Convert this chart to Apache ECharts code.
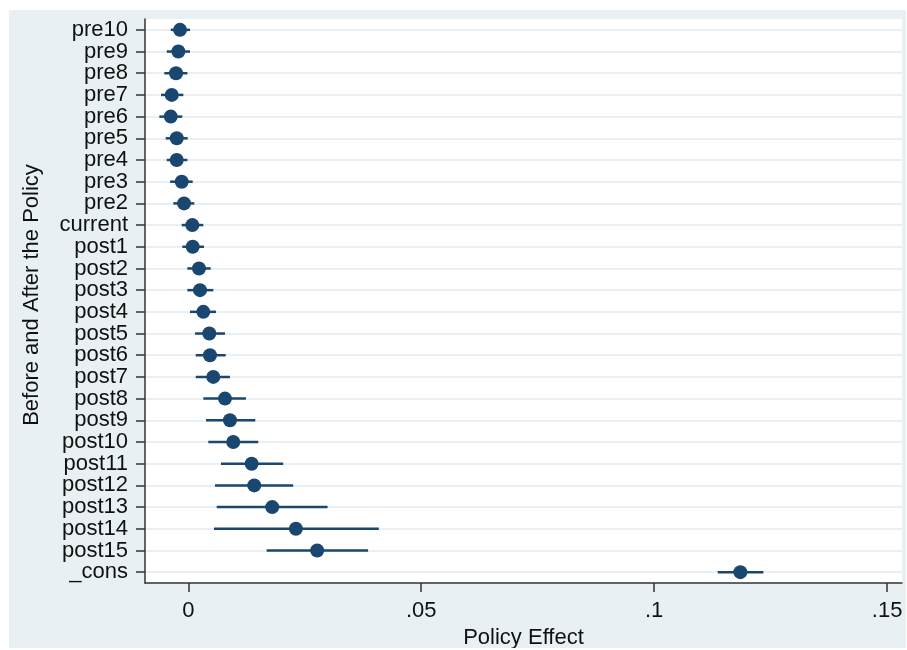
<!DOCTYPE html>
<html>
<head>
<meta charset="utf-8">
<script src="https://cdn.jsdelivr.net/npm/echarts@6/dist/echarts.min.js"></script>
<style>
html,body{margin:0;padding:0;background:#ffffff;width:907px;height:650px;overflow:hidden;}
#c{position:absolute;left:9px;top:10px;width:897px;height:638px;}
</style>
</head>
<body>
<div id="c"></div>
<script>
const categories = ['pre10','pre9','pre8','pre7','pre6','pre5','pre4','pre3','pre2','current',
  'post1','post2','post3','post4','post5','post6','post7','post8','post9','post10',
  'post11','post12','post13','post14','post15','_cons'];
const estimates = [-0.00178,-0.00214,-0.00264,-0.00356,-0.00377,-0.00249,-0.00249,-0.00142,-0.00092,0.00086,
  0.00094,0.00229,0.00251,0.00322,0.00450,0.00465,0.00536,0.00787,0.00894,0.00965,
  0.01359,0.01415,0.01801,0.02309,0.02766,0.11850];
const ciLower = [-0.00377,-0.00463,-0.00515,-0.00585,-0.00622,-0.00485,-0.00463,-0.00392,-0.00322,-0.00142,
  -0.00129,-0.00021,-0.00021,0.00036,0.00144,0.00159,0.00159,0.00322,0.00380,0.00429,
  0.00701,0.00572,0.00609,0.00551,0.01681,0.11364];
const ciUpper = [0.00036,0.00036,-0.00020,-0.00107,-0.00129,-0.00013,-0.00020,0.00094,0.00129,0.00322,
  0.00337,0.00480,0.00536,0.00594,0.00787,0.00802,0.00894,0.01237,0.01437,0.01501,
  0.02037,0.02251,0.02989,0.04089,0.03859,0.12344];
const xTicks = [0, 0.05, 0.1, 0.15];
const xTickLabels = ['0', '.05', '.1', '.15'];

const navy = '#1a476f';
const font = 'Liberation Sans, Arial, Helvetica, sans-serif';

const chart = echarts.init(document.getElementById('c'), null, {renderer: 'canvas'});
const ciData = categories.map((c, i) => [ciLower[i], ciUpper[i], i]);
const ptData = categories.map((c, i) => [estimates[i], c]);

chart.setOption({
  backgroundColor: '#e9f0f3',
  animation: false,
  grid: {left: 136, top: 9, right: 4, bottom: 65, show: true, backgroundColor: '#ffffff', borderWidth: 0,
    containLabel: false, outerBoundsMode: 'none'},
  xAxis: {
    type: 'value', min: -0.0093, max: 0.1532,
    name: 'Policy Effect', nameLocation: 'middle', nameGap: 42,
    nameTextStyle: {fontFamily: font, fontSize: 22, color: '#111'},
    axisLine: {show: true, onZero: false, lineStyle: {color: '#333', width: 1.5}},
    axisTick: {show: true, length: 9, customValues: xTicks, lineStyle: {color: '#333', width: 1.5}},
    axisLabel: {customValues: xTicks, margin: 17, fontFamily: font, fontSize: 22, color: '#111',
      formatter: v => { const k = xTicks.findIndex(t => Math.abs(t - v) < 1e-9); return k >= 0 ? xTickLabels[k] : ''; }},
    splitLine: {show: false}
  },
  yAxis: {
    type: 'category', data: categories, inverse: true, boundaryGap: true,
    name: 'Before and After the Policy', nameLocation: 'middle', nameGap: 102,
    nameTextStyle: {fontFamily: font, fontSize: 22, color: '#111', padding: [0, 0, 0, 12]},
    axisLine: {show: true, onZero: false, lineStyle: {color: '#333', width: 1.5}},
    axisTick: {show: true, alignWithLabel: true, length: 9, lineStyle: {color: '#333', width: 1.5}},
    axisLabel: {margin: 17, fontFamily: font, fontSize: 22, color: '#111', interval: 0},
    splitLine: {show: true, alignWithLabel: true, interval: 0, lineStyle: {color: '#e2ebef', width: 1.5}}
  },
  series: [
    {
      type: 'custom',
      data: ciData,
      encode: {x: [0, 1], y: 2},
      renderItem: function (params, api) {
        const a = api.coord([api.value(0), api.value(2)]);
        const b = api.coord([api.value(1), api.value(2)]);
        return {type: 'line', shape: {x1: a[0], y1: a[1], x2: b[0], y2: b[1]},
          style: {stroke: navy, lineWidth: 2.5}};
      },
      z: 2
    },
    {
      type: 'scatter',
      data: ptData,
      symbol: 'circle', symbolSize: 14,
      itemStyle: {color: navy, opacity: 1},
      z: 3
    }
  ]
});
</script>
</body>
</html>
